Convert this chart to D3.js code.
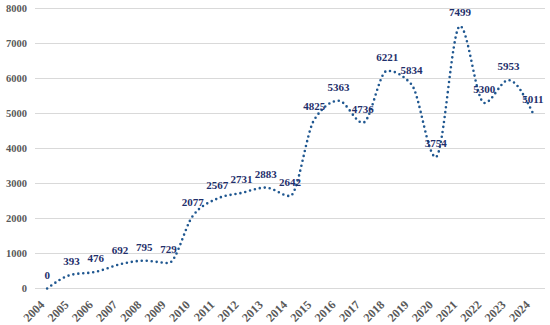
<!DOCTYPE html>
<html>
<head>
<meta charset="utf-8">
<script src="https://cdn.jsdelivr.net/npm/d3@7"></script>
<style>
  html, body { margin: 0; padding: 0; background: #fff; }
  svg { display: block; }
</style>
</head>
<body>
<svg id="chart" width="550" height="325"></svg>
<script>
const years = ["2004","2005","2006","2007","2008","2009","2010","2011","2012","2013","2014","2015","2016","2017","2018","2019","2020","2021","2022","2023","2024"];
const values = [0,393,476,692,795,729,2077,2567,2731,2883,2642,4825,5363,4736,6221,5834,3754,7499,5300,5953,5011];
const yTicks = [0,1000,2000,3000,4000,5000,6000,7000,8000];

const svg = d3.select("#chart");
const margin = {left: 35, right: 5, top: 8.5, bottom: 36.5};
const W = 550, H = 325;

const x = d3.scaleBand().domain(years).range([margin.left, W - margin.right]);
const y = d3.scaleLinear().domain([0, 8000]).range([H - margin.bottom, margin.top]);

const font = "'Liberation Serif', 'Times New Roman', serif";

// gridlines
svg.append("g")
  .selectAll("line")
  .data(yTicks)
  .join("line")
  .attr("x1", margin.left).attr("x2", W - margin.right)
  .attr("y1", d => y(d)).attr("y2", d => y(d))
  .attr("stroke", "#d9d9d9").attr("stroke-width", 1);

// y axis
const yAxis = svg.append("g")
  .attr("transform", `translate(${margin.left},0)`)
  .call(d3.axisLeft(y).tickValues(yTicks).tickFormat(d3.format("d")).tickSize(0).tickPadding(8));
yAxis.select(".domain").remove();
yAxis.selectAll("text")
  .style("font-family", font).attr("font-weight", "bold")
  .attr("font-size", "10.5px").attr("fill", "#595959");

// x axis
const xAxis = svg.append("g")
  .attr("transform", `translate(0,${y(0)})`)
  .call(d3.axisBottom(x).tickSize(0).tickPadding(0));
xAxis.select(".domain").remove();
xAxis.selectAll("text")
  .style("font-family", font).attr("font-weight", "bold")
  .attr("font-size", "12px").attr("fill", "#595959")
  .attr("text-anchor", "end")
  .attr("dy", null).attr("y", 0)
  .attr("transform", `translate(-2,17) rotate(-45)`);

// line
const cx = d => x(d) + x.bandwidth() / 2;
const line = d3.line()
  .x((d, i) => cx(years[i]))
  .y(d => y(d))
  .curve(d3.curveMonotoneX);

svg.append("path")
  .datum(values)
  .attr("d", line)
  .attr("fill", "none")
  .attr("stroke", "#1F5790")
  .attr("stroke-width", 2.6)
  .attr("stroke-linecap", "round")
  .attr("stroke-dasharray", "0 5");

// data labels
svg.append("g")
  .selectAll("text")
  .data(values)
  .join("text")
  .attr("x", (d, i) => cx(years[i]))
  .attr("y", d => y(d) - 10)
  .attr("text-anchor", "middle")
  .style("font-family", font).attr("font-weight", "bold")
  .attr("font-size", "11px").attr("fill", "#1F2F6B")
  .text(d => d);
</script>
</body>
</html>
